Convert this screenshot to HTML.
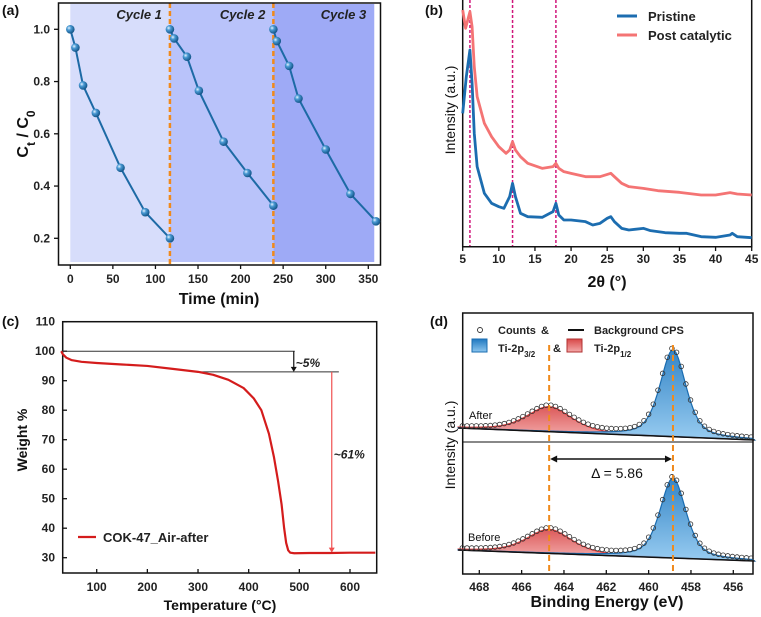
<!DOCTYPE html>
<html><head><meta charset="utf-8"><style>
html,body{margin:0;padding:0;background:#fff;}
svg{display:block;font-family:"Liberation Sans",Arial,sans-serif;}
.tk{font-size:12px;font-weight:bold;fill:#222;}
.ttl{font-size:16px;font-weight:bold;fill:#111;}
.pl{font-size:14px;font-weight:bold;fill:#111;}
</style></head><body>
<svg id="fig" width="761" height="617" viewBox="0 0 761 617">
<text class="pl" x="2" y="15">(a)</text>
<text class="pl" x="425" y="15">(b)</text>
<text class="pl" x="2" y="326">(c)</text>
<text class="pl" x="430" y="326">(d)</text>
<g id="pa"></g>
<g id="pb"></g>
<g id="pc"></g>
<g id="pd"></g>
</svg>
<script>
// ---------- data ----------
const cycleNames = ["Cycle 1","Cycle 2","Cycle 3"];
const cycleBounds = [0,117,238.5,357];
const c1Time = [0,6,15,30,59,88,117];
const c1Val = [1.0,0.93,0.785,0.68,0.47,0.30,0.20];
const c2Time = [117,122,137,151,180,208,238.5];
const c2Val = [1.0,0.965,0.895,0.765,0.57,0.45,0.325];
const c3Time = [238.5,242.5,257,268,300,329,359];
const c3Val = [1.0,0.955,0.86,0.735,0.54,0.37,0.265];
const aXTicks = [0,50,100,150,200,250,300,350];
const aYTicks = [0.2,0.4,0.6,0.8,1.0];

const xrdAngle = [5,5.5,6,6.3,6.6,7,8,9,10,10.7,11.5,11.9,12.3,13,14,16,17.5,17.9,18.3,19,20,22,23,24,25,25.5,26,27,28,30,31,33,35,36,38,40,42,42.3,43,45];
const xrdPristine = [340,230,150,250,400,500,580,610,620,625,590,550,590,640,650,652,635,610,645,660,660,665,675,670,655,650,665,685,690,685,692,698,700,700,710,712,705,700,710,713];
const xrdPostAngle = [5,5.4,5.7,6,6.3,6.6,7,8,9,10,11,11.5,11.9,12.3,13,14,16,17.5,17.9,18.3,19,20,22,24,25.5,26,27,28,30,32,35,38,40,42,43,45];
const xrdPost = [30,85,60,35,80,200,290,370,410,440,460,450,425,450,470,490,505,500,490,505,515,520,530,530,520,530,550,560,565,572,577,585,585,578,582,585];
const xrdRefLines = [6,11.9,17.9];
const bXTicks = [5,10,15,20,25,30,35,40,45];

const tgaTemp = [30,33,40,50,70,100,150,200,250,300,330,360,390,410,425,440,450,458,465,470,474,478,482,490,520,560,600,650];
const tgaWeight = [100,99,97.8,97,96.4,96,95.5,95,94,93,92,90.3,87.5,84,80,72,64,56,48,40,35,32.5,31.7,31.5,31.6,31.6,31.7,31.7];
const cXTicks = [100,200,300,400,500,600];
const cYTicks = [30,40,50,60,70,80,90,100,110];

const xpsPeakCenters = [464.7,458.85];
const xpsAfterAmps = [25,87];
const xpsBeforeAmps = [24,80];
const xpsWidths = [1.25,0.72];
const dXTicks = [468,466,464,462,460,458,456];

// ---------- helpers ----------
const NS="http://www.w3.org/2000/svg";
function mk(parent,tag,attrs,text){const e=document.createElementNS(NS,tag);for(const k in attrs)e.setAttribute(k,attrs[k]);if(text!==undefined)e.textContent=text;parent.appendChild(e);return e;}
function lin(d0,d1,r0,r1){return v=>r0+(v-d0)*(r1-r0)/(d1-d0);}

// ---------- panel a ----------
(function(){
const g=document.getElementById('pa');
const X=lin(0,350,70.3,368.3), Y=lin(0.2,1.0,238.3,29.3);
const shades=["#d7ddfb","#b9c3fa","#9eaaf6"];
for(let i=0;i<3;i++){
 const r=mk(g,'rect',{x:X(cycleBounds[i]),y:4,width:X(cycleBounds[i+1])-X(cycleBounds[i]),height:258,fill:shades[i]});
 
 
 const t=mk(g,'text',{x:X(cycleBounds[i+1])-8,y:19,'text-anchor':'end','font-size':'13','font-weight':'bold','font-style':'italic',fill:'#222'},cycleNames[i]);
 
 
}
[cycleBounds[1],cycleBounds[2]].forEach(v=>{const l=mk(g,'line',{x1:X(v),x2:X(v),y1:3,y2:264,stroke:'#f08a1c','stroke-width':2.5,'stroke-dasharray':'5,3'});
 
 });
const fr=mk(g,'rect',{x:58.5,y:3,width:322,height:262,fill:'none',stroke:'#111','stroke-width':1.5});


aXTicks.forEach(v=>{mk(g,'line',{x1:X(v),x2:X(v),y1:265,y2:269,stroke:'#111','stroke-width':1.3});
 const t=mk(g,'text',{class:'tk',x:X(v),y:283,'text-anchor':'middle'},v);
 
 });
aYTicks.forEach(v=>{mk(g,'line',{x1:54,x2:58.5,y1:Y(v),y2:Y(v),stroke:'#111','stroke-width':1.3});
 const t=mk(g,'text',{class:'tk',x:50,y:Y(v)+4,'text-anchor':'end'},v.toFixed(1));
 
 });
const xt=mk(g,'text',{class:'ttl',x:219,y:304,'text-anchor':'middle'},'Time (min)');


const yt=mk(g,'text',{class:'ttl',transform:'translate(28,134) rotate(-90)','text-anchor':'middle','font-size':'18'});


yt.innerHTML='C<tspan baseline-shift="sub" font-size="12">t</tspan> / C<tspan baseline-shift="sub" font-size="12">0</tspan>';
const defs=mk(g,'defs',{});
const rg=mk(defs,'radialGradient',{id:'ball',cx:'0.35',cy:'0.35',r:'0.7'});
mk(rg,'stop',{offset:'0','stop-color':'#e8f4ff'});mk(rg,'stop',{offset:'0.35','stop-color':'#4a9ad4'});mk(rg,'stop',{offset:'1','stop-color':'#0e4f82'});
[[c1Time,c1Val],[c2Time,c2Val],[c3Time,c3Val]].forEach((s,i)=>{
 const p=mk(g,'polyline',{points:s[0].map((t,j)=>X(t)+','+Y(s[1][j])).join(' '),fill:'none',stroke:'#1d6aa5','stroke-width':2});
 
 
 s[0].forEach((t,j)=>{const c=mk(g,'circle',{cx:X(t),cy:Y(s[1][j]),r:4.3,fill:'url(#ball)'});
  
  });
});
})();

// ---------- panel b ----------
(function(){
const g=document.getElementById('pb');
const X=lin(5,45,462.7,751.7), Y=v=>v/3;
const ax=mk(g,'path',{d:'M462.7,0 V246.7 H751.7 V0',fill:'none',stroke:'#111','stroke-width':1.5});


xrdRefLines.forEach(v=>{const l=mk(g,'line',{x1:X(v),x2:X(v),y1:0,y2:246,stroke:'#d0157a','stroke-width':1.5,'stroke-dasharray':'3,2'});
 
 });
const pp=mk(g,'polyline',{points:xrdPostAngle.map((a,i)=>X(a)+','+Y(xrdPost[i])).join(' '),fill:'none',stroke:'#f47474','stroke-width':2.8,'stroke-linejoin':'round'});


const pr=mk(g,'polyline',{points:xrdAngle.map((a,i)=>X(a)+','+Y(xrdPristine[i])).join(' '),fill:'none',stroke:'#1c6db0','stroke-width':2.8,'stroke-linejoin':'round'});


bXTicks.forEach(v=>{mk(g,'line',{x1:X(v),x2:X(v),y1:246.7,y2:251,stroke:'#111','stroke-width':1.3});
 const t=mk(g,'text',{class:'tk',x:X(v),y:263,'text-anchor':'middle'},v);
 
 });
const xt=mk(g,'text',{class:'ttl',x:607,y:287,'text-anchor':'middle'},'2θ (°)');


const yt=mk(g,'text',{transform:'translate(455,110) rotate(-90)','text-anchor':'middle','font-size':'14',fill:'#111'},'Intensity (a.u.)');


[['Pristine','#1c6db0',16],['Post catalytic','#f47474',35]].forEach(e=>{
 const l=mk(g,'line',{x1:617,x2:637,y1:e[2],y2:e[2],stroke:e[1],'stroke-width':3});
 
 
 const t=mk(g,'text',{x:648,y:e[2]+5,'font-size':'13','font-weight':'bold',fill:'#222'},e[0]);
 
 });
})();

// ---------- panel c ----------
(function(){
const g=document.getElementById('pc');
const X=lin(100,600,96.7,350), Y=lin(30,110,557.7,321.7);
const fr=mk(g,'rect',{x:62.7,y:321.7,width:314,height:251.3,fill:'none',stroke:'#111','stroke-width':1.5});


cXTicks.forEach(v=>{mk(g,'line',{x1:X(v),x2:X(v),y1:573,y2:569,stroke:'#111','stroke-width':1.3});
 const t=mk(g,'text',{class:'tk',x:X(v),y:591,'text-anchor':'middle'},v);
 
 });
cYTicks.forEach(v=>{mk(g,'line',{x1:62.7,x2:67,y1:Y(v),y2:Y(v),stroke:'#111','stroke-width':1.3});
 const t=mk(g,'text',{class:'tk',x:55,y:Y(v)+4,'text-anchor':'end'},v);
 
 });
const xt=mk(g,'text',{x:220,y:610,'text-anchor':'middle','font-size':'14','font-weight':'bold',fill:'#111'},'Temperature (°C)');


const yt=mk(g,'text',{transform:'translate(27,440) rotate(-90)','text-anchor':'middle','font-size':'14','font-weight':'bold',fill:'#111'},'Weight %');


mk(g,'line',{x1:X(30),x2:X(491),y1:Y(100),y2:Y(100),stroke:'#333','stroke-width':1});
mk(g,'line',{x1:X(300),x2:X(578),y1:Y(93),y2:Y(93),stroke:'#333','stroke-width':1});
mk(g,'line',{x1:X(489),x2:X(489),y1:Y(100),y2:Y(93)-3,stroke:'#111','stroke-width':1.2});
mk(g,'path',{d:`M${X(489)-3},${Y(93)-5} L${X(489)},${Y(93)} L${X(489)+3},${Y(93)-5}Z`,fill:'#111'});
const a1=mk(g,'text',{x:X(493),y:Y(96)+4,'font-size':'12','font-weight':'bold','font-style':'italic',fill:'#222'},'~5%');


mk(g,'line',{x1:X(564),x2:X(564),y1:Y(93),y2:Y(31.7)-3,stroke:'#f05050','stroke-width':1.2});
mk(g,'path',{d:`M${X(564)-3},${Y(31.7)-5} L${X(564)},${Y(31.7)} L${X(564)+3},${Y(31.7)-5}Z`,fill:'#f05050'});
const a2=mk(g,'text',{x:X(568),y:Y(65)+4,'font-size':'12','font-weight':'bold','font-style':'italic',fill:'#222'},'~61%');


const cl=mk(g,'polyline',{points:tgaTemp.map((t,i)=>X(t)+','+Y(tgaWeight[i])).join(' '),fill:'none',stroke:'#d41c1c','stroke-width':2.2,'stroke-linejoin':'round'});


mk(g,'line',{x1:78,x2:96,y1:537,y2:537,stroke:'#d41c1c','stroke-width':2.2});
const lg=mk(g,'text',{x:103,y:542,'font-size':'13','font-weight':'bold',fill:'#222'},'COK-47_Air-after');


})();

// ---------- panel d ----------
(function(){
const g=document.getElementById('pd');
const X=lin(468,456,479.3,733.3);
const fr=mk(g,'rect',{x:462.7,y:313,width:290.3,height:261,fill:'none',stroke:'#111','stroke-width':1.5});


mk(g,'line',{x1:462.7,x2:753,y1:442,y2:442,stroke:'#111','stroke-width':1});
const defs=mk(g,'defs',{});
const bg=mk(defs,'linearGradient',{id:'bgrad',x1:0,y1:0,x2:0,y2:1});mk(bg,'stop',{offset:0,'stop-color':'#1f78c0'});mk(bg,'stop',{offset:1,'stop-color':'#8cc6ef'});
const rg=mk(defs,'linearGradient',{id:'rgrad',x1:0,y1:0,x2:0,y2:1});mk(rg,'stop',{offset:0,'stop-color':'#d84848'});mk(rg,'stop',{offset:1,'stop-color':'#f4aaaa'});
function prof(e,c,w){const d=(e-c)/w;return 0.5*Math.exp(-0.693*d*d)+0.5/(1+d*d);}
function spectrum(amps,b0,b1,label){
 const base=e=>b0+(469-e)*(b1-b0)/14;
 const es=[];for(let e=469;e>=455;e-=0.1)es.push(+e.toFixed(2));
 xpsPeakCenters.forEach((c,k)=>{
  let d='M'+X(469)+','+base(469);
  es.forEach(e=>{d+=' L'+X(e)+','+(base(e)-amps[k]*prof(e,c,xpsWidths[k]));});
  d+=' L'+X(455)+','+base(455)+' Z';
  const p=mk(g,'path',{d:d,fill:k?'url(#bgrad)':'url(#rgrad)',stroke:k?'#1a6cb0':'#e03a3a','stroke-width':1.2,'fill-opacity':0.9});
  
  
 });
 const bl=mk(g,'line',{x1:X(469),x2:X(455),y1:base(469),y2:base(455),stroke:'#111','stroke-width':1.5});
 
 
 for(let e=468.8;e>=455.1;e-=0.22){
  const y=base(e)-xpsPeakCenters.reduce((s,c,k)=>s+amps[k]*prof(e,c,xpsWidths[k]),0);
  const c=mk(g,'circle',{cx:X(e),cy:y-1,r:2.3,fill:'none',stroke:'#333','stroke-width':0.8});
  
  
 }
}
spectrum(xpsAfterAmps,428,440,'after');
spectrum(xpsBeforeAmps,550,561,'before');
xpsPeakCenters.forEach(c=>{const l=mk(g,'line',{x1:X(c),x2:X(c),y1:345,y2:574,stroke:'#f08a1c','stroke-width':2,'stroke-dasharray':'6,4'});
 
 });
mk(g,'line',{x1:X(464.7)+6,x2:X(458.85)-6,y1:459,y2:459,stroke:'#111','stroke-width':1.4});
mk(g,'path',{d:`M${X(464.7)+1},459 l7,-3.5 v7Z M${X(458.85)-1},459 l-7,-3.5 v7Z`,fill:'#111'});
const dl=mk(g,'text',{x:617,y:478,'text-anchor':'middle','font-size':'14',fill:'#111'},'Δ = 5.86');


const t1=mk(g,'text',{x:469,y:419,'font-size':'11',fill:'#111'},'After');

const t2=mk(g,'text',{x:468,y:541,'font-size':'11',fill:'#111'},'Before');

dXTicks.forEach(v=>{mk(g,'line',{x1:X(v),x2:X(v),y1:574,y2:570,stroke:'#111','stroke-width':1.3});
 const t=mk(g,'text',{class:'tk',x:X(v),y:591,'text-anchor':'middle'},v);
 
 });
const xt=mk(g,'text',{class:'ttl',x:607,y:607,'text-anchor':'middle'},'Binding Energy (eV)');

const yt=mk(g,'text',{transform:'translate(455,445) rotate(-90)','text-anchor':'middle','font-size':'14',fill:'#111'},'Intensity (a.u.)');

// legend
mk(g,'circle',{cx:480,cy:330,r:2.5,fill:'none',stroke:'#333','stroke-width':0.9});
const lt=[['Counts',498,334],['&',541,334],['Background CPS',594,334],['&',553,352]];
mk(g,'line',{x1:568,x2:584,y1:330,y2:330,stroke:'#111','stroke-width':2});
lt.forEach(a=>{const t=mk(g,'text',{x:a[1],y:a[2],'font-size':'11','font-weight':'bold',fill:'#222'},a[0]);
 });
const s1=mk(g,'rect',{x:472,y:339,width:15,height:13,fill:'url(#bgrad)',stroke:'#1a6cb0'});

const s2=mk(g,'rect',{x:567,y:339,width:15,height:13,fill:'url(#rgrad)',stroke:'#b03030'});

[['3/2',498],['1/2',594]].forEach(a=>{
 const tt=mk(g,'text',{x:a[1],y:352,'font-size':'11','font-weight':'bold',fill:'#222'});
 
 
 tt.innerHTML='Ti-2p<tspan baseline-shift="sub" font-size="8">'+a[0]+'</tspan>';
});
})();
</script>
</body></html>
